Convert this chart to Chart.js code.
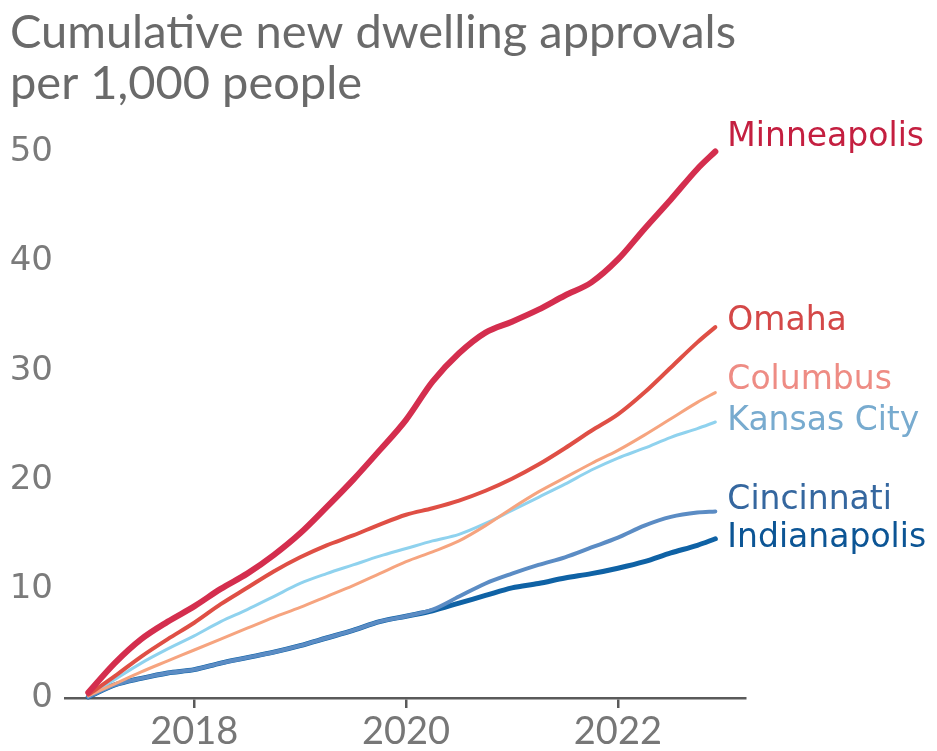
<!DOCTYPE html>
<html>
<head>
<meta charset="utf-8">
<script src="https://cdn.jsdelivr.net/npm/chart.js@4.4.1/dist/chart.umd.min.js"></script>
<style>
    html, body { margin: 0; padding: 0; background: #ffffff; }
    #wrap { position: relative; width: 937px; height: 751px; }
</style>
</head>
<body>
<div id="wrap"><canvas id="chart" width="937" height="751"></canvas></div>
<script>
// quarterly periods, decimal years
const periods = [
    2017, 2017.25, 2017.5, 2017.75,
    2018, 2018.25, 2018.5, 2018.75,
    2019, 2019.25, 2019.5, 2019.75,
    2020, 2020.25, 2020.5, 2020.75,
    2021, 2021.25, 2021.5, 2021.75,
    2022, 2022.25, 2022.5, 2022.75, 2022.92
];

const minneapolis = [0.5, 3.2, 5.4, 7.0, 8.4, 10.0, 11.4, 13.1, 15.1, 17.5, 20.0, 22.7, 25.5, 29.0, 31.6, 33.5, 34.5, 35.6, 36.9, 38.1, 40.2, 43.0, 45.7, 48.5, 50.1];
const omaha = [0.3, 2.0, 3.8, 5.4, 6.9, 8.6, 10.1, 11.6, 12.9, 14.0, 14.9, 15.9, 16.8, 17.4, 18.1, 19.0, 20.1, 21.4, 22.9, 24.5, 26.0, 28.0, 30.3, 32.6, 34.0];
const columbus = [0.2, 1.3, 2.4, 3.4, 4.4, 5.4, 6.4, 7.4, 8.3, 9.3, 10.3, 11.4, 12.5, 13.4, 14.4, 15.8, 17.4, 18.9, 20.2, 21.5, 22.7, 24.1, 25.6, 27.1, 28.0];
const kansasCity = [0.2, 1.7, 3.2, 4.5, 5.7, 7.0, 8.1, 9.3, 10.5, 11.4, 12.2, 13.0, 13.7, 14.4, 15.0, 16.0, 17.2, 18.4, 19.6, 20.9, 22.0, 22.9, 23.9, 24.7, 25.3];
const cincinnati = [0.1, 1.2, 1.8, 2.3, 2.6, 3.2, 3.7, 4.2, 4.8, 5.5, 6.2, 7.0, 7.5, 8.1, 9.3, 10.5, 11.4, 12.2, 12.9, 13.8, 14.7, 15.8, 16.6, 17.0, 17.1];
const indianapolis = [0.1, 1.2, 1.8, 2.3, 2.6, 3.2, 3.7, 4.2, 4.8, 5.5, 6.2, 7.0, 7.5, 8.0, 8.7, 9.4, 10.1, 10.5, 11.0, 11.4, 11.9, 12.5, 13.3, 14.0, 14.6];

const cities = ["Minneapolis", "Omaha", "Columbus", "Kansas City", "Cincinnati", "Indianapolis"];
const yearTicks = [2018, 2020, 2022];
const valueTicks = [0, 10, 20, 30, 40, 50];

const titleLines = ["Cumulative new dwelling approvals", "per 1,000 people"];

function toPoints(values) {
    return values.map((v, i) => ({ x: periods[i], y: v }));
}

// line colour, label colour, width, label nudge
const styles = [
    { line: "#d42e4e", text: "#c41f40", width: 6, dy: -14 },
    { line: "#df4f45", text: "#d44848", width: 4, dy: -6 },
    { line: "#f6a47f", text: "#ee8c84", width: 3, dy: -12 },
    { line: "#8fd2ee", text: "#78abcf", width: 3, dy: -1 },
    { line: "#5b8cc4", text: "#35679f", width: 4, dy: -11 },
    { line: "#0f62a5", text: "#0c5595", width: 5, dy: 0 }
];

const series = [minneapolis, omaha, columbus, kansasCity, cincinnati, indianapolis];

const endLabels = {
    id: "endLabels",
    afterDatasetsDraw(chart) {
        const ctx = chart.ctx;
        ctx.save();
        ctx.font = "33px 'DejaVu Sans'";
        ctx.textAlign = "left";
        ctx.textBaseline = "middle";
        chart.data.datasets.forEach((ds, i) => {
            const meta = chart.getDatasetMeta(i);
            const last = meta.data[meta.data.length - 1];
            ctx.fillStyle = styles[i].text;
            ctx.fillText(ds.label, last.x + 12, last.y + styles[i].dy);
        });
        ctx.restore();
    }
};

new Chart(document.getElementById("chart"), {
    type: "line",

    data: {
        datasets: cities.map((name, i) => ({
            label: name,
            data: toPoints(series[i]),
            borderColor: styles[i].line,
            borderWidth: styles[i].width,
            borderCapStyle: "round",
            borderJoinStyle: "round",
            cubicInterpolationMode: "monotone",
            pointRadius: 0,
            fill: false,
            clip: false
        }))
    },

    options: {
        responsive: false,
        animation: false,

        layout: {
            padding: { left: 10, right: 192, top: 0, bottom: 0 }
        },

        plugins: {
            legend: { display: false },
            tooltip: { enabled: false },
            title: {
                display: true,
                text: titleLines,
                align: "start",
                color: "#6a6a6a",
                font: { family: "Lato", size: 47, weight: "normal", lineHeight: 1.07 },
                padding: { top: 8, bottom: 44 }
            }
        },

        scales: {
            x: {
                type: "linear",
                min: 2016.78,
                max: 2023.2,
                afterBuildTicks(scale) {
                    scale.ticks = yearTicks.map(v => ({ value: v }));
                },
                afterFit(scale) {
                    scale.height = 53;
                },
                ticks: {
                    color: "#777777",
                    font: { family: "Lato", size: 38, lineHeight: 1.0 },
                    padding: 5,
                    maxRotation: 0,
                    callback: v => String(v)
                },
                grid: {
                    drawOnChartArea: false,
                    drawTicks: true,
                    tickLength: 10,
                    color: "#5a5a5a",
                    lineWidth: 2.5
                },
                border: { display: true, color: "#5a5a5a", width: 2.5 }
            },

            y: {
                min: 0,
                max: 50,
                afterBuildTicks(scale) {
                    scale.ticks = valueTicks.map(v => ({ value: v }));
                },
                afterFit(scale) {
                    scale.width = 55;
                },
                ticks: {
                    color: "#7b7b7b",
                    font: { family: "DejaVu Sans", size: 34 },
                    padding: 4
                },
                grid: { display: false },
                border: { display: false }
            }
        }
    },

    plugins: [endLabels]
});
</script>
</body>
</html>
